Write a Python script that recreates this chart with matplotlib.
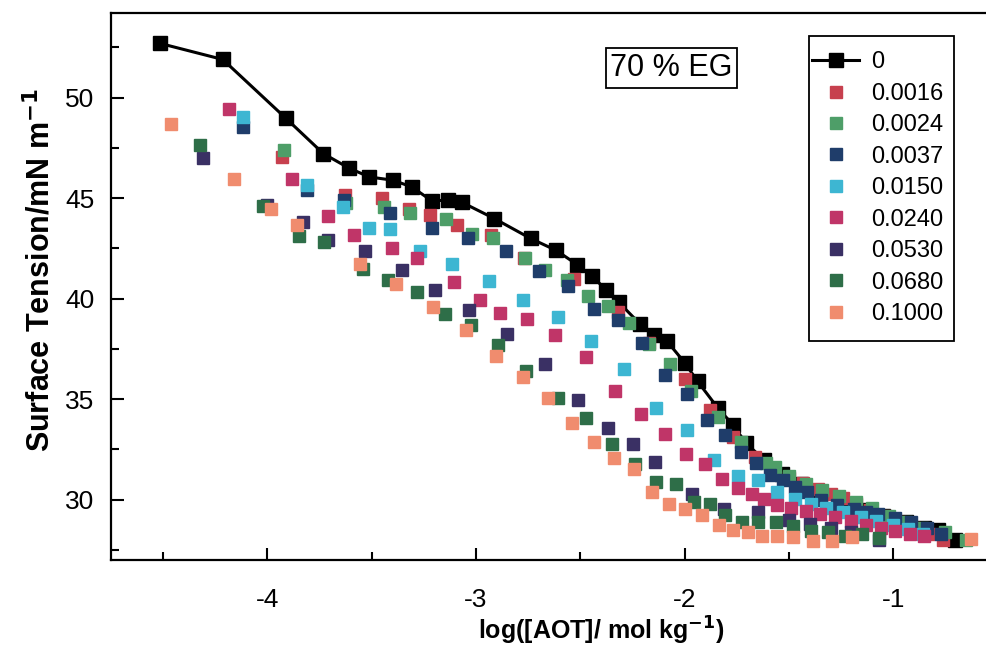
import matplotlib.pyplot as plt
from matplotlib.patches import Rectangle
import numpy as np

plt.rcParams['font.family'] = ['Liberation Sans', 'DejaVu Sans']
plt.rcParams['axes.unicode_minus'] = False

# AOT concentration in 70 % EG, log scale; one series per additive concentration
x_0 = [-4.515, -4.214, -3.911, -3.732, -3.611, -3.512, -3.400, -3.309, -3.213, -3.133,
       -3.066, -2.912, -2.738, -2.616, -2.515, -2.444, -2.377, -2.316, -2.212, -2.148,
       -2.085, -2.000, -1.938, -1.842, -1.766, -1.707, -1.62, -1.534, -1.44, -1.35,
       -1.25, -1.15, -1.05, -0.936, -0.85, -0.785, -0.705]
y_0 = [52.69, 51.89, 48.96, 47.21, 46.50, 46.05, 45.89, 45.56, 44.87, 44.89,
       44.78, 43.98, 42.99, 42.40, 41.69, 41.11, 40.45, 39.82, 38.72, 38.21,
       37.89, 36.82, 35.89, 34.58, 33.70, 32.82, 32.0, 31.29, 30.8, 30.3,
       29.9, 29.5, 29.2, 28.89, 28.6, 28.48, 27.98]

x_0016 = [-3.93, -3.63, -3.45, -3.32, -3.22, -3.09, -2.93, -2.77, -2.53, -2.32,
          -2.17, -2.00, -1.88, -1.77, -1.66, -1.57, -1.50, -1.43, -1.36, -1.30,
          -1.24, -1.18, -1.11, -1.04, -0.97, -0.90, -0.83, -0.76]
y_0016 = [47.05, 45.14, 45.02, 44.48, 44.18, 43.65, 43.15, 42.04, 40.96, 39.33,
          37.8, 36.02, 34.44, 33.1, 32.12, 31.5, 31.1, 30.83, 30.55, 30.30,
          30.1, 29.8, 29.5, 29.2, 28.9, 28.6, 28.3, 28.0]

x_0024 = [-3.923, -3.623, -3.443, -3.317, -3.145, -3.021, -2.92, -2.766, -2.670, -2.563,
          -2.463, -2.368, -2.268, -2.172, -2.068, -1.97, -1.841, -1.729, -1.611, -1.567,
          -1.50, -1.42, -1.34, -1.26, -1.18, -1.10, -1.02, -0.94, -0.86, -0.753, -0.649]
y_0024 = [47.41, 44.73, 44.56, 44.26, 43.95, 43.23, 43.0, 42.04, 41.44, 40.91,
          40.11, 39.62, 38.79, 37.76, 36.77, 35.4, 34.11, 32.87, 31.82, 31.62,
          31.2, 30.8, 30.5, 30.2, 29.9, 29.6, 29.2, 28.9, 28.6, 28.39, 27.98]

x_0037 = [-4.115, -3.812, -3.632, -3.413, -3.212, -3.037, -2.858, -2.699, -2.561, -2.435,
          -2.319, -2.204, -2.092, -1.989, -1.893, -1.806, -1.730, -1.659, -1.591, -1.526,
          -1.471, -1.415, -1.344, -1.27, -1.19, -1.13, -1.072, -0.99, -0.913, -0.84, -0.77]
y_0037 = [48.51, 45.4, 44.9, 44.26, 43.53, 43.03, 42.37, 41.37, 40.61, 39.50,
          38.92, 37.81, 36.18, 35.27, 33.98, 33.20, 32.37, 31.82, 31.21, 30.96,
          30.63, 30.38, 29.97, 29.75, 29.55, 29.4, 29.30, 29.1, 28.89, 28.6, 28.3]

x_0150 = [-4.115, -3.812, -3.640, -3.512, -3.413, -3.269, -3.113, -2.938, -2.774, -2.608,
          -2.448, -2.292, -2.135, -1.987, -1.861, -1.745, -1.646, -1.558, -1.471, -1.392,
          -1.32, -1.24, -1.152, -1.08, -1.00, -0.93, -0.856]
y_0150 = [49.03, 45.64, 44.56, 43.53, 43.45, 42.35, 41.74, 40.86, 39.95, 39.09,
          37.89, 36.48, 34.58, 33.48, 31.96, 31.16, 30.99, 30.38, 30.05, 29.80,
          29.6, 29.4, 29.13, 28.95, 28.75, 28.55, 28.31]

x_0240 = [-4.185, -3.884, -3.708, -3.584, -3.405, -3.281, -3.105, -2.983, -2.885, -2.755,
          -2.619, -2.472, -2.335, -2.208, -2.093, -1.994, -1.901, -1.822, -1.742, -1.678,
          -1.617, -1.558, -1.49, -1.42, -1.35, -1.28, -1.20, -1.13, -1.06, -0.99, -0.92, -0.85]
y_0240 = [49.45, 45.95, 44.09, 43.15, 42.52, 42.04, 40.83, 39.95, 39.28, 39.00,
          38.17, 37.09, 35.39, 34.28, 33.28, 32.29, 31.76, 31.04, 30.60, 30.30,
          30.05, 29.72, 29.6, 29.45, 29.3, 29.15, 28.95, 28.75, 28.6, 28.45, 28.3, 28.2]

x_0530 = [-4.310, -4.00, -3.831, -3.71, -3.533, -3.357, -3.196, -3.034, -2.850, -2.671,
          -2.512, -2.368, -2.247, -2.141, -1.965, -1.813, -1.646, -1.50, -1.40, -1.30,
          -1.20, -1.069]
y_0530 = [46.97, 44.65, 43.81, 42.9, 42.35, 41.44, 40.45, 39.45, 38.26, 36.77,
          34.94, 33.58, 32.75, 31.87, 30.30, 29.55, 29.38, 29.0, 28.8, 28.6,
          28.4, 27.98]

x_0680 = [-4.325, -4.022, -3.850, -3.727, -3.544, -3.424, -3.281, -3.148, -3.022, -2.893,
          -2.759, -2.608, -2.472, -2.348, -2.236, -2.137, -2.042, -1.957, -1.878, -1.806,
          -1.726, -1.646, -1.56, -1.48, -1.392, -1.31, -1.232, -1.15, -1.07]
y_0680 = [47.66, 44.61, 43.10, 42.82, 41.49, 40.95, 40.33, 39.25, 38.67, 37.68,
          36.38, 35.05, 34.06, 32.75, 31.76, 30.88, 30.76, 29.88, 29.80, 29.22,
          28.89, 28.9, 28.9, 28.7, 28.47, 28.4, 28.22, 28.3, 28.1]

x_1000 = [-4.464, -4.161, -3.982, -3.860, -3.555, -3.384, -3.204, -3.050, -2.906, -2.775,
          -2.654, -2.539, -2.433, -2.340, -2.244, -2.157, -2.073, -1.998, -1.918, -1.837,
          -1.766, -1.697, -1.630, -1.558, -1.478, -1.383, -1.295, -1.199, -0.627]
y_1000 = [48.66, 45.94, 44.44, 43.65, 41.74, 40.75, 39.58, 38.42, 37.14, 36.10,
          35.05, 33.83, 32.87, 32.09, 31.54, 30.38, 29.77, 29.55, 29.22, 28.76,
          28.51, 28.39, 28.22, 28.22, 28.17, 27.93, 27.93, 28.14, 28.06]

series = [
    ('0.0016', x_0016, y_0016, '#c7404e'),
    ('0.0024', x_0024, y_0024, '#4e9e68'),
    ('0.0037', x_0037, y_0037, '#1f3d6a'),
    ('0.0150', x_0150, y_0150, '#3db6d2'),
    ('0.0240', x_0240, y_0240, '#c03568'),
    ('0.0530', x_0530, y_0530, '#3a3064'),
    ('0.0680', x_0680, y_0680, '#2e6e48'),
    ('0.1000', x_1000, y_1000, '#f08c6e'),
]

fig = plt.figure(figsize=(9.87, 6.52), dpi=100)
ax = fig.add_axes([0.1125, 0.141, 0.8875, 0.839])

ax.plot(x_0, y_0, color='black', lw=2.2, marker='s', ms=9.5, label='0', zorder=2)
for name, xs, ys, c in series:
    ax.plot(xs, ys, ls='none', marker='s', ms=8.6, color=c, label=name, zorder=3)

ax.set_xlim(-4.75, -0.55)
ax.set_ylim(27.0, 54.2)
ax.set_xticks([-4, -3, -2, -1])
ax.set_xticks(np.arange(-4.5, -0.5, 1.0), minor=True)
ax.set_yticks([30, 35, 40, 45, 50])
ax.set_yticks(np.arange(27.5, 54, 5), minor=True)
ax.tick_params(which='both', direction='in', width=1.5, labelsize=19)
ax.tick_params(which='major', length=9)
ax.tick_params(axis='x', which='major', pad=20)
ax.tick_params(axis='y', which='major', pad=12)
ax.tick_params(which='minor', length=6)
ax.tick_params(axis='x', which='both', top=False)
ax.tick_params(axis='y', which='both', right=False)
ax.spines['right'].set_visible(False)
for s in ['left', 'bottom', 'top']:
    ax.spines[s].set_linewidth(1.6)

ax.set_ylabel('Surface Tension/mN m$^{\\mathbf{-1}}$', fontsize=22, fontweight='bold')
ax.yaxis.set_label_coords(-0.062, 0.53)
ax.set_xlabel('log([AOT]/ mol kg$^{\\mathbf{-1}}$)', fontsize=18, fontweight='bold')
ax.xaxis.set_label_coords(0.56, -0.1)

ax.text(0.57, 0.885, '70 % EG', transform=ax.transAxes, fontsize=22,
        bbox=dict(boxstyle='square,pad=0.15', fc='white', ec='black', lw=1.3))

# legend box drawn separately so it can be taller than the entries need
ax.add_patch(Rectangle((0.797, 0.400), 0.165, 0.558, transform=ax.transAxes,
                       fill=False, ec='black', lw=1.3, zorder=4))
leg = ax.legend(loc='upper left', bbox_to_anchor=(0.791, 0.945), fontsize=17,
                frameon=False, handlelength=2.0, handletextpad=0.5,
                borderpad=0.35, labelspacing=0.4, borderaxespad=0)

plt.savefig('out.png', dpi=100)
